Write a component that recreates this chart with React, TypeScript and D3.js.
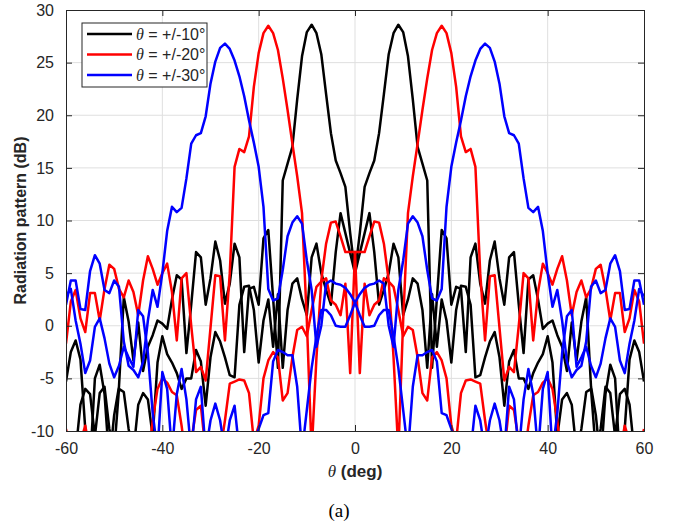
import { useEffect, useRef } from 'react'
import * as d3 from 'd3'

const THETA = d3.range(-60, 61)
const X_TICKS = [-60, -40, -20, 0, 20, 40, 60]
const Y_TICKS = [-10, -5, 0, 5, 10, 15, 20, 25, 30]
const LEGEND = ['+/-10°', '+/-20°', '+/-30°']
const COLORS = ['#000000', '#ff0000', '#0000ff']

// beam steered to -theta / +theta, theta = -60..60 step 1
const BLACK_NEG = [
  -5.3, -2.5, -1.4, -3.2, -9.8, -13, -5.0, -3.7, -6.5, -13,
  -8.5, -5.8, 2.7, 0.4, -3.3, 0.3, -4.3, -2.0, -0.9, 0.5,
  0.2, -0.3, 2.5, 4.8, 4.4, -2.6, 2.0, 7.0, 6.5, 2.0,
  4.5, 8.0, 6.2, 2.1, 4.0, 7.8, 6.5, -2.5, 3.5, 3.7,
  2.0, 8.3, 9.1, 2.6, -4.0, 13.8, 15.4, 17.0, 21.5, 25.6,
  27.9, 28.6, 27.8, 25.8, 22.0, 18.3, 15.7, 14.5, 13.2, 8.8,
  5.0,
  6.9, 8.8, 10.7, 7.0, 2.0, 3.4, 5.0, 7.8, 6.5, 1.0,
  2.5, 4.5, 4.0, 1.5, -4.0, 3.0, -2.0, 2.5, 0.5, -3.5,
  1.5, 3.8, 3.7, 2.0, -4.9, -4.7, -3.0, -1.5, -0.6, -3.0,
  -7.6, -3.4, -2.3, -5.0, -5.0, -6.0, -4.5, -3.5, -2.7, -1.0,
  -3.5, -10.5, -7.0, -6.4, -7.5, -12, -9.8, -6.3, -6.0, -12,
  -9.8, -5.8, -6.4, -10.5, -6.5, -6.0, -7.5, -12, -10.5, -12,
]
const BLACK_POS = [
  -12, -10.5, -12, -7.5, -6.0, -6.5, -10.5, -6.4, -5.8, -9.8,
  -12, -6.0, -6.3, -9.8, -12, -7.5, -6.4, -7.0, -10.5, -3.5,
  -1.0, -2.7, -3.5, -4.5, -6.0, -5.0, -5.0, -2.3, -3.4, -7.6,
  -3.0, -0.6, -1.5, -3.0, -4.7, -4.9, 2.0, 3.7, 3.8, 1.5,
  -3.5, 0.5, 2.5, -2.0, 3.0, -4.0, 1.5, 4.0, 4.5, 2.5,
  1.0, 6.5, 7.8, 5.0, 3.4, 2.0, 7.0, 10.7, 8.8, 6.9,
  5.0,
  8.8, 13.2, 14.5, 15.7, 18.3, 22.0, 25.8, 27.8, 28.6, 27.9,
  25.6, 21.5, 17.0, 15.4, 13.8, -4.0, 2.6, 9.1, 8.3, 2.0,
  3.7, 3.5, -2.5, 6.5, 7.8, 4.0, 2.1, 6.2, 8.0, 4.5,
  2.0, 6.5, 7.0, 2.0, -2.6, 4.4, 4.8, 2.5, -0.3, 0.2,
  0.5, -0.9, -2.0, -4.3, 0.3, -3.3, 0.4, 2.7, -5.8, -8.5,
  -13, -6.5, -3.7, -5.0, -13, -9.8, -3.2, -1.4, -2.5, -5.3,
]
const RED_NEG = [
  -1.7, 2.3, 3.4, 0.7, -0.6, 3.1, 3.1, 0.5, 3.5, 5.8,
  5.4, 3.5, 2.7, 4.3, 3.2, 1.0, 4.3, 6.6, 5.4, 3.9,
  5.0, 5.9, 3.2, -1.4, 4.5, 5.0, 0.0, -4.4, -3.9, -5.2,
  -0.2, 4.8, 4.7, -1.4, 5.0, 15.1, 16.8, 16.5, 18.0, 22.7,
  25.9, 27.8, 28.5, 27.8, 26.2, 23.5, 20.5, 17.3, 14.2, 10.7,
  0.5, -12, -3.0, 4.3, 7.8, 9.8, 9.9, 8.5, 7.0, 7.0,
  7.0,
  -4.5, 4.0, 1.0, 2.0, 2.4, 4.5, 4.2, 3.7, 1.5, -1.0,
  -0.1, -0.4, -3.0, -6.4, -7.1, -3.0, -2.5, -3.3, -5.0, -9.5,
  -11, -6.4, -5.2, -5.1, -5.3, -5.5, -9.0, -12, -11, -13,
  -12, -7.6, -8.0, -11, -13, -9.5, -6.6, -6.3, -5.4, -5.0,
  -6.0, -9.0, -13, -11, -12, -14, -11, -13, -12, -14,
  -11, -13, -12, -14, -12, -9.5, -11, -13, -12, -9.8,
]
const RED_POS = [
  -9.8, -12, -13, -11, -9.5, -12, -14, -12, -13, -11,
  -14, -12, -13, -11, -14, -12, -11, -13, -9.0, -6.0,
  -5.0, -5.4, -6.3, -6.6, -9.5, -13, -11, -8.0, -7.6, -12,
  -13, -11, -12, -9.0, -5.5, -5.3, -5.1, -5.2, -6.4, -11,
  -9.5, -5.0, -3.3, -2.5, -3.0, -7.1, -6.4, -3.0, -0.4, -0.1,
  -1.0, 1.5, 3.7, 4.2, 4.5, 2.4, 2.0, 1.0, 4.0, -4.5,
  7.0,
  7.0, 7.0, 8.5, 9.9, 9.8, 7.8, 4.3, -3.0, -12, 0.5,
  10.7, 14.2, 17.3, 20.5, 23.5, 26.2, 27.8, 28.5, 27.8, 25.9,
  22.7, 18.0, 16.5, 16.8, 15.1, 5.0, -1.4, 4.7, 4.8, -0.2,
  -5.2, -3.9, -4.4, 0.0, 5.0, 4.5, -1.4, 3.2, 5.9, 5.0,
  3.9, 5.4, 6.6, 4.3, 1.0, 3.2, 4.3, 2.7, 3.5, 5.4,
  5.8, 3.5, 0.5, 3.1, 3.1, -0.6, 0.7, 3.4, 2.3, -1.7,
]
const BLUE_NEG = [
  2.0, 4.3, 4.3, 1.6, 1.5, 5.2, 6.7, 5.9, 3.4, 3.1,
  4.3, 3.7, -1.5, -3.8, -4.2, -4.9, -3.4, 0.5, 3.4, 1.8,
  5.0, 9.0, 11.3, 10.8, 11.2, 14.0, 17.3, 18.1, 18.3, 19.9,
  23.0, 25.1, 26.4, 26.8, 26.3, 25.2, 23.7, 21.8, 19.5, 17.4,
  15.1, 11.3, 3.5, 2.4, 2.6, 5.3, 8.5, 9.8, 10.4, 9.7,
  6.2, 3.4, -2.0, 0.0, 4.0, 4.3, 4.0, 3.9, 3.6, 3.0,
  2.2,
  1.0, -0.1, -0.1, 0.0, 1.0, 1.5, 1.5, -1.0, -4.0, -8.0,
  -12, -5.8, -2.8, -2.8, -2.5, -2.3, -3.4, -8.3, -8.5, -9.8,
  -11, -12, -13, -12, -7.6, -9.0, -12, -9.0, -7.4, -9.0,
  -12, -5.8, -7.0, -12, -7.0, -4.1, -6.5, -12, -6.0, -4.4,
  -12, -8.3, -2.6, 0.9, 1.5, -3.9, -3.0, -2.0, -3.8, -4.9,
  -3.6, -1.2, 0.7, -0.1, -3.3, -4.5, -1.7, 0.5, 3.5, 2.8,
]
const BLUE_POS = [
  2.8, 3.5, 0.5, -1.7, -4.5, -3.3, -0.1, 0.7, -1.2, -3.6,
  -4.9, -3.8, -2.0, -3.0, -3.9, 1.5, 0.9, -2.6, -8.3, -12,
  -4.4, -6.0, -12, -6.5, -4.1, -7.0, -12, -7.0, -5.8, -12,
  -9.0, -7.4, -9.0, -12, -9.0, -7.6, -12, -13, -12, -11,
  -9.8, -8.5, -8.3, -3.4, -2.3, -2.5, -2.8, -2.8, -5.8, -12,
  -8.0, -4.0, -1.0, 1.5, 1.5, 1.0, 0.0, -0.1, -0.1, 1.0,
  2.2,
  3.0, 3.6, 3.9, 4.0, 4.3, 4.0, 0.0, -2.0, 3.4, 6.2,
  9.7, 10.4, 9.8, 8.5, 5.3, 2.6, 2.4, 3.5, 11.3, 15.1,
  17.4, 19.5, 21.8, 23.7, 25.2, 26.3, 26.8, 26.4, 25.1, 23.0,
  19.9, 18.3, 18.1, 17.3, 14.0, 11.2, 10.8, 11.3, 9.0, 5.0,
  1.8, 3.4, 0.5, -3.4, -4.9, -4.2, -3.8, -1.5, 3.7, 4.3,
  3.1, 3.4, 5.9, 6.7, 5.2, 1.5, 1.6, 4.3, 4.3, 2.0,
]

const SERIES = [
  [BLACK_NEG, BLACK_POS],
  [RED_NEG, RED_POS],
  [BLUE_NEG, BLUE_POS],
]

export default function App() {
  const svgRef = useRef(null)

  useEffect(() => {
    const W = 678
    const H = 525
    const margin = { top: 10, right: 34, bottom: 94, left: 66 }
    const innerW = W - margin.left - margin.right
    const innerH = H - margin.top - margin.bottom
    const axisColor = '#262626'
    const sans = '"Liberation Sans", Arial, Helvetica, sans-serif'
    const serif = '"Liberation Serif", "Times New Roman", serif'

    const x = d3.scaleLinear().domain([-60, 60]).range([0, innerW])
    const y = d3.scaleLinear().domain([-10, 30]).range([innerH, 0])

    const svg = d3.select(svgRef.current)
    svg.selectAll('*').remove()
    svg.attr('width', W).attr('height', H)

    svg.append('defs').append('clipPath').attr('id', 'plot-clip')
      .append('rect').attr('width', innerW).attr('height', innerH)

    const g = svg.append('g').attr('transform', `translate(${margin.left},${margin.top})`)

    g.append('rect').attr('width', innerW).attr('height', innerH).attr('fill', '#fff')

    // Grid
    g.append('g')
      .selectAll('line')
      .data(X_TICKS.slice(1, -1))
      .join('line')
      .attr('x1', (d) => x(d)).attr('x2', (d) => x(d))
      .attr('y1', 0).attr('y2', innerH)
      .attr('stroke', '#dfdfdf').attr('stroke-width', 1)
    g.append('g')
      .selectAll('line')
      .data(Y_TICKS.slice(1, -1))
      .join('line')
      .attr('x1', 0).attr('x2', innerW)
      .attr('y1', (d) => y(d)).attr('y2', (d) => y(d))
      .attr('stroke', '#dfdfdf').attr('stroke-width', 1)

    // Lines
    const line = d3.line()
      .x((d, i) => x(THETA[i]))
      .y((d) => y(d))
    const lines = g.append('g').attr('clip-path', 'url(#plot-clip)')
    SERIES.forEach((pair, ci) => {
      pair.forEach((vals) => {
        lines.append('path')
          .datum(vals)
          .attr('d', line)
          .attr('fill', 'none')
          .attr('stroke', COLORS[ci])
          .attr('stroke-width', 2.5)
          .attr('stroke-linejoin', 'round')
      })
    })

    // Axes (box with inward ticks), hyphen-minus labels like MATLAB
    const fmt = (d) => `${d}`
    const tickLen = 6
    const xAxis = g.append('g')
      .attr('transform', `translate(0,${innerH})`)
      .call(d3.axisBottom(x).tickValues(X_TICKS).tickSize(-tickLen).tickPadding(12).tickFormat(fmt))
    const xTop = g.append('g')
      .call(d3.axisTop(x).tickValues(X_TICKS).tickSize(-tickLen).tickFormat(() => ''))
    const yAxis = g.append('g')
      .call(d3.axisLeft(y).tickValues(Y_TICKS).tickSize(-tickLen).tickPadding(12).tickFormat(fmt))
    const yRight = g.append('g')
      .attr('transform', `translate(${innerW},0)`)
      .call(d3.axisRight(y).tickValues(Y_TICKS).tickSize(-tickLen).tickFormat(() => ''))
    ;[xAxis, xTop, yAxis, yRight].forEach((ax) => {
      ax.select('.domain').attr('stroke', axisColor).attr('stroke-width', 1)
      ax.selectAll('.tick line').attr('stroke', axisColor)
      ax.selectAll('text')
        .attr('fill', axisColor)
        .attr('font-size', 16)
        .attr('font-family', sans)
    })
    xAxis.selectAll('text').attr('dy', '0.7em')

    // Axis titles
    const xt = svg.append('text')
      .attr('x', margin.left + innerW / 2)
      .attr('y', 477)
      .attr('text-anchor', 'middle')
      .attr('fill', axisColor)
      .attr('font-size', 17)
    xt.append('tspan').attr('font-family', serif).attr('font-style', 'italic').text('θ')
    xt.append('tspan').attr('font-family', sans).attr('font-weight', 'bold').text(' (deg)')

    svg.append('text')
      .attr('transform', `translate(26,${margin.top + innerH / 2}) rotate(-90)`)
      .attr('text-anchor', 'middle')
      .attr('fill', axisColor)
      .attr('font-size', 16)
      .attr('font-weight', 'bold')
      .attr('font-family', sans)
      .text('Radiation pattern (dB)')

    // Legend
    const lg = g.append('g').attr('transform', 'translate(16,13)')
    lg.append('rect')
      .attr('width', 125).attr('height', 64)
      .attr('fill', '#fff').attr('stroke', axisColor).attr('stroke-width', 1)
    LEGEND.forEach((label, i) => {
      const ly = 11 + i * 20.5
      lg.append('line')
        .attr('x1', 5).attr('x2', 50)
        .attr('y1', ly).attr('y2', ly)
        .attr('stroke', COLORS[i]).attr('stroke-width', 2.5)
      const t = lg.append('text')
        .attr('x', 54).attr('y', ly + 5.5)
        .attr('fill', axisColor)
        .attr('font-size', 16)
      t.append('tspan').attr('font-family', serif).attr('font-style', 'italic').text('θ')
      t.append('tspan').attr('font-family', sans).text(` = ${label}`)
    })

    // Caption
    svg.append('text')
      .attr('x', 339).attr('y', 517)
      .attr('text-anchor', 'middle')
      .attr('fill', '#000')
      .attr('font-size', 19)
      .attr('font-family', serif)
      .text('(a)')
  }, [])

  return (
    <div style={{ position: 'absolute', left: 0, top: 0 }}>
      <svg ref={svgRef} />
    </div>
  )
}
